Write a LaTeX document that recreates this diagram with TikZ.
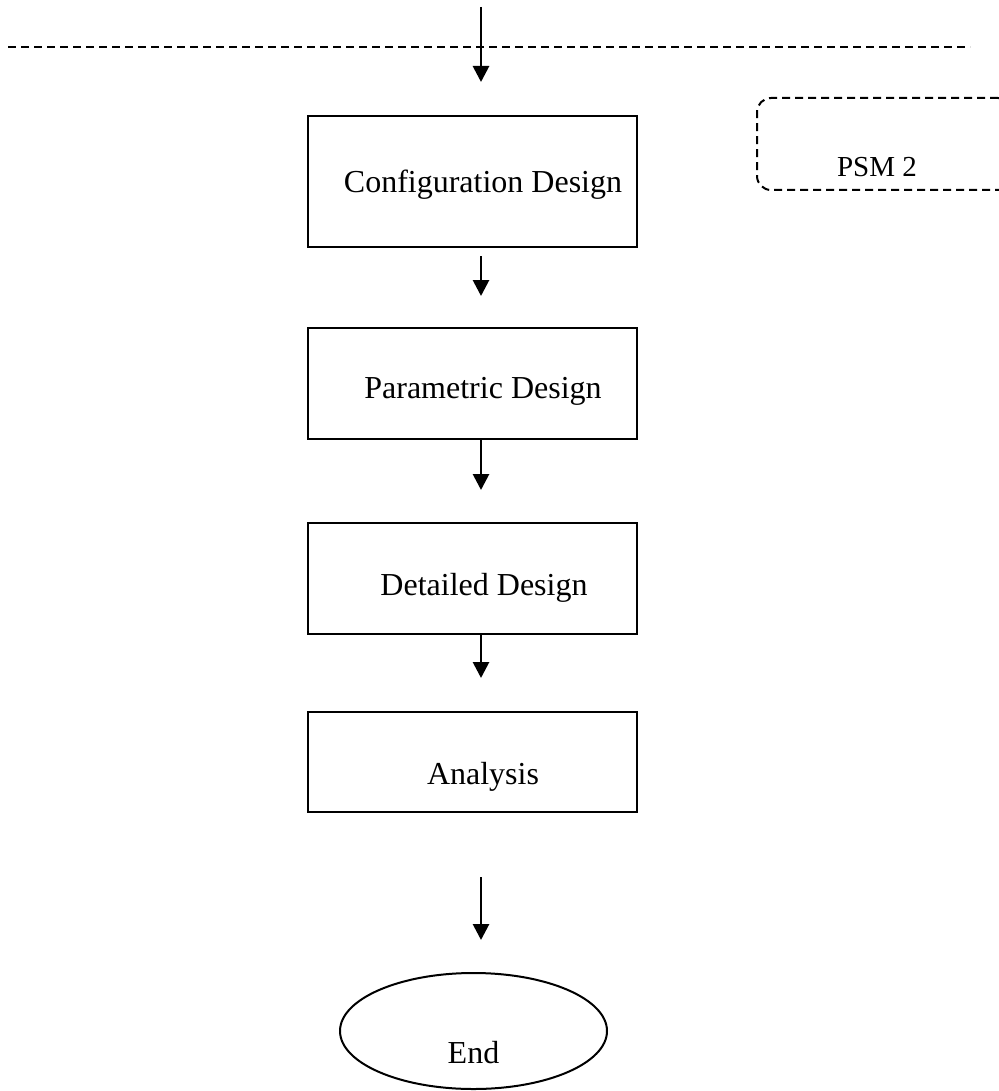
\documentclass[tikz,border=0pt]{standalone}
\usepackage{fontspec}
\setmainfont{Liberation Serif}
\usetikzlibrary{calc, positioning}
\usetikzlibrary{arrows.meta}
\usetikzlibrary{shapes.geometric}

\begin{document}
\begin{tikzpicture}[x=1pt, y=-1pt,
  stepbox/.style={draw, line width=2pt, minimum width=329pt, inner sep=0pt},
  boxtext/.style={font=\fontsize{32}{38}\selectfont, inner sep=0pt},
  flow/.style={line width=2.8pt, -{Triangle[length=16pt, width=16pt]}},
  dashline/.style={line width=2pt, dash pattern=on 8pt off 5pt}]
\useasboundingbox (0,0) rectangle (998,1091);

% Dashed separator line
\coordinate (L) at (8,47);
\coordinate (R) at (970,47);
\draw[dashline] (L) -- (R);

% Entry arrow
\coordinate (In) at (481,7);
\coordinate (InEnd) at (481,82);
\draw[flow] (In) -- (InEnd);

% PSM 2 box, cut off at the right edge
\node[draw, dashline, rounded corners=14pt, minimum width=255pt, minimum height=92pt,
  inner sep=0pt, label={[font=\fontsize{29}{34}\selectfont, inner sep=0pt, xshift=-7.5pt, yshift=-23pt]center:PSM 2}]
  (psm) at (884.5,144) {};

% Process boxes
\node[stepbox, minimum height=131pt,
  label={[boxtext, xshift=10.5pt, yshift=-3.5pt]center:Configuration Design}] (conf) at (472.5,181.5) {};
\node[stepbox, minimum height=111pt,
  label={[boxtext, xshift=10.5pt, yshift=-7.5pt]center:Parametric Design}] (param) at (472.5,383.5) {};
\node[stepbox, minimum height=111pt,
  label={[boxtext, xshift=11.5pt, yshift=-9.5pt]center:Detailed Design}] (detail) at (472.5,578.5) {};
\node[stepbox, minimum height=100pt,
  label={[boxtext, xshift=10.5pt, yshift=-15pt]center:Analysis}] (anal) at (472.5,762) {};

% End terminal
\node[draw, ellipse, line width=2pt, minimum width=267pt, minimum height=116pt, inner sep=0pt,
  label={[boxtext, yshift=-22pt]center:End}] (end) at (473.5,1031) {};

% Flow arrows
\draw[flow] ([xshift=8.5pt, yshift=-8pt]conf.south) -- ([xshift=8.5pt, yshift=31pt]param.north);
\draw[flow] ([xshift=8.5pt]param.south) -- ([xshift=8.5pt, yshift=32pt]detail.north);
\draw[flow] ([xshift=8.5pt]detail.south) -- ([xshift=8.5pt, yshift=33pt]anal.north);
\draw[flow] ([xshift=8.5pt, yshift=-64pt]anal.south) -- ([xshift=7.5pt, yshift=32pt]end.north);
\end{tikzpicture}
\end{document}
